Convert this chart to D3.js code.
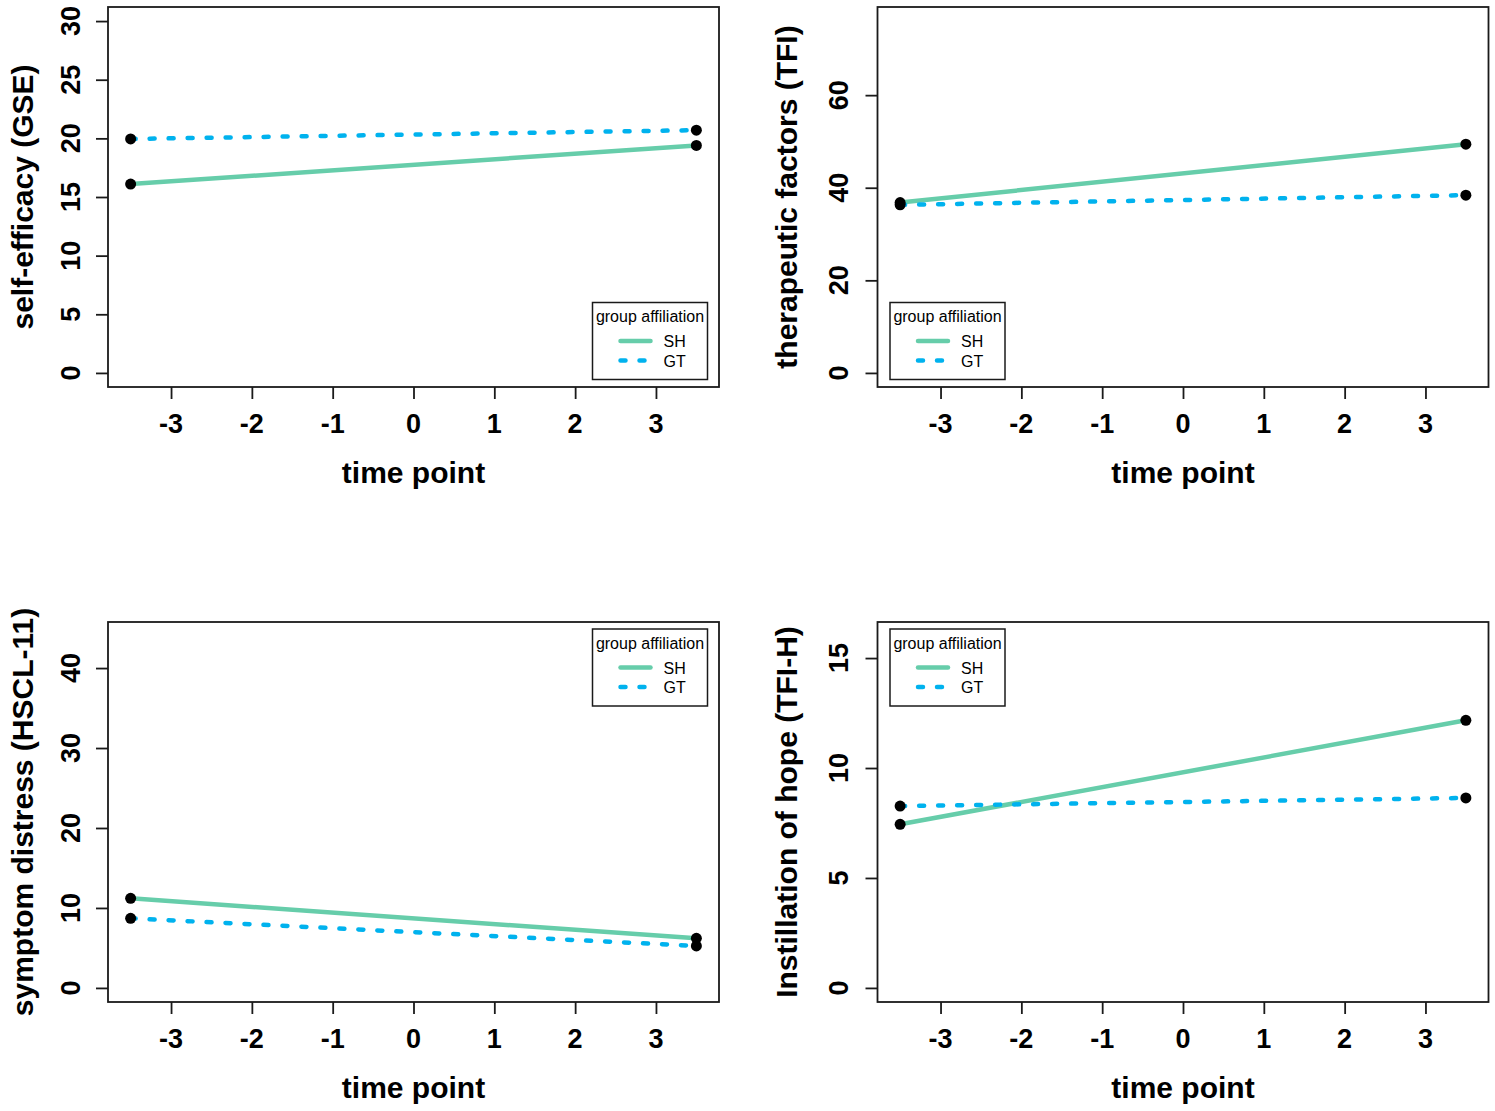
<!DOCTYPE html>
<html>
<head>
<meta charset="utf-8">
<script src="https://cdn.jsdelivr.net/npm/d3@7"></script>
<style>
	body { margin: 0; background: #fff; }
	svg text { font-family: "Liberation Sans", Arial, Helvetica, sans-serif; fill: #000; }
	.tick-label, .axis-title { font-weight: bold; }
</style>
</head>
<body>
<div id="chart"></div>
<script>
// data
var timePoints = [-3.5, 3.5];
var groupNames = ["SH", "GT"];

var gseSH  = [16.1, 19.4];
var gseGT  = [19.95, 20.7];
var tfiSH  = [36.8, 49.4];
var tfiGT  = [36.3, 38.4];
var hsclSH = [11.2, 6.2];
var hsclGT = [8.7, 5.25];
var hopeSH = [7.44, 12.17];
var hopeGT = [8.27, 8.64];

var xTicks    = [-3, -2, -1, 0, 1, 2, 3];
var gseTicks  = [0, 5, 10, 15, 20, 25, 30];
var tfiTicks  = [0, 20, 40, 60];
var hsclTicks = [0, 10, 20, 30, 40];
var hopeTicks = [0, 5, 10, 15];

var yTitles = ["self-efficacy (GSE)", "therapeutic factors (TFI)", "symptom distress (HSCL-11)", "Instillation of hope (TFI-H)"];
var yLimits = [30, 76, 44, 16];
var xLimits = [-3.5, 3.5];
var xTitle = "time point";
var legendTitle = "group affiliation";

var panels = [
	{ sh: gseSH,  gt: gseGT,  ticks: gseTicks  },
	{ sh: tfiSH,  gt: tfiGT,  ticks: tfiTicks  },
	{ sh: hsclSH, gt: hsclGT, ticks: hsclTicks },
	{ sh: hopeSH, gt: hopeGT, ticks: hopeTicks }
];

var colours = { SH: "#66CDAA", GT: "#00B2EE" };

//
// Layout
//
var _width = 1495, _height = 1111;
var boxLeft = [108, 877.5],
	boxTop = [7, 622],
	boxW = 611, boxH = 380;
var titleOff = [75, 80.5],
	tickLabOff = [28, 29.5];

var svg = d3.select("#chart").append("svg")
	.attr("width", _width)
	.attr("height", _height);

// R style axis range: 4% extension each side
function extend(lo, hi) {
	var d = (hi - lo) * 0.04;
	return [lo - d, hi + d];
}

panels.forEach(function(p, i) {
	var col = i % 2, row = Math.floor(i / 2);
	var left = boxLeft[col], top = boxTop[row];

	var x = d3.scaleLinear().domain(extend(xLimits[0], xLimits[1])).range([left, left + boxW]);
	var y = d3.scaleLinear().domain(extend(0, yLimits[i])).range([top + boxH, top]);

	var g = svg.append("g");

	// box
	g.append("rect")
		.attr("x", left).attr("y", top)
		.attr("width", boxW).attr("height", boxH)
		.attr("fill", "none")
		.attr("stroke", "#1a1a1a")
		.attr("stroke-width", 1.8);

	// x axis
	var xAxis = d3.axisBottom(x).tickValues(xTicks).tickSize(12).tickFormat("");
	var xg = g.append("g").attr("transform", "translate(0," + (top + boxH) + ")").call(xAxis);
	xg.select(".domain").remove();
	xg.selectAll(".tick line").attr("stroke", "#1a1a1a").attr("stroke-width", 1.8);

	g.selectAll("text.xtick")
		.data(xTicks)
		.enter()
		.append("text")
		.attr("class", "tick-label")
		.attr("x", function(d) { return x(d); })
		.attr("y", top + boxH + 46)
		.attr("text-anchor", "middle")
		.style("font-size", "27px")
		.text(function(d) { return d; });

	g.append("text")
		.attr("class", "axis-title")
		.attr("x", left + boxW / 2)
		.attr("y", top + boxH + 96)
		.attr("text-anchor", "middle")
		.style("font-size", "30px")
		.text(xTitle);

	// y axis
	var yAxis = d3.axisLeft(y).tickValues(p.ticks).tickSize(12).tickFormat("");
	var yg = g.append("g").attr("transform", "translate(" + left + ",0)").call(yAxis);
	yg.select(".domain").remove();
	yg.selectAll(".tick line").attr("stroke", "#1a1a1a").attr("stroke-width", 1.8);

	g.selectAll("text.ytick")
		.data(p.ticks)
		.enter()
		.append("text")
		.attr("class", "tick-label")
		.attr("transform", function(d) {
			return "translate(" + (left - tickLabOff[col]) + "," + y(d) + ") rotate(-90)";
		})
		.attr("text-anchor", "middle")
		.style("font-size", "27px")
		.text(function(d) { return d; });

	g.append("text")
		.attr("class", "axis-title")
		.attr("transform", "translate(" + (left - titleOff[col]) + "," + (top + boxH / 2) + ") rotate(-90)")
		.attr("text-anchor", "middle")
		.style("font-size", "30px")
		.text(yTitles[i]);

	// lines
	var line = d3.line()
		.x(function(d, j) { return x(timePoints[j]); })
		.y(function(d) { return y(d); });

	g.append("path")
		.datum(p.sh)
		.attr("d", line)
		.attr("fill", "none")
		.attr("stroke", colours.SH)
		.attr("stroke-width", 4.5);

	g.append("path")
		.datum(p.gt)
		.attr("d", line)
		.attr("fill", "none")
		.attr("stroke", colours.GT)
		.attr("stroke-width", 4.5)
		.attr("stroke-linecap", "round")
		.attr("stroke-dasharray", "5 14");

	// end points
	[p.sh, p.gt].forEach(function(vals) {
		g.selectAll(null)
			.data(vals)
			.enter()
			.append("circle")
			.attr("cx", function(d, j) { return x(timePoints[j]); })
			.attr("cy", function(d) { return y(d); })
			.attr("r", 5.5)
			.attr("fill", "#000");
	});

	// legend
	var lx = col === 0 ? left + boxW - 126.5 : left + 12.5;
	var ly = row === 0 ? top + boxH - 84.5 : top + 7;
	var lg = g.append("g").attr("transform", "translate(" + lx + "," + ly + ")");

	lg.append("rect")
		.attr("width", 115).attr("height", 77)
		.attr("fill", "#fff")
		.attr("stroke", "#1a1a1a")
		.attr("stroke-width", 1.5);

	lg.append("text")
		.attr("x", 57.5).attr("y", 19.5)
		.attr("text-anchor", "middle")
		.style("font-size", "16px")
		.text(legendTitle);

	groupNames.forEach(function(name, k) {
		var ry = 38.5 + k * 19.5;
		lg.append("line")
			.attr("x1", 28).attr("x2", 58)
			.attr("y1", ry).attr("y2", ry)
			.attr("stroke", colours[name])
			.attr("stroke-width", 4.5)
			.attr("stroke-linecap", "round")
			.attr("stroke-dasharray", name === "GT" ? "5 14" : null);
		lg.append("text")
			.attr("x", 71).attr("y", ry + 6)
			.style("font-size", "16px")
			.text(name);
	});
});
</script>
</body>
</html>
